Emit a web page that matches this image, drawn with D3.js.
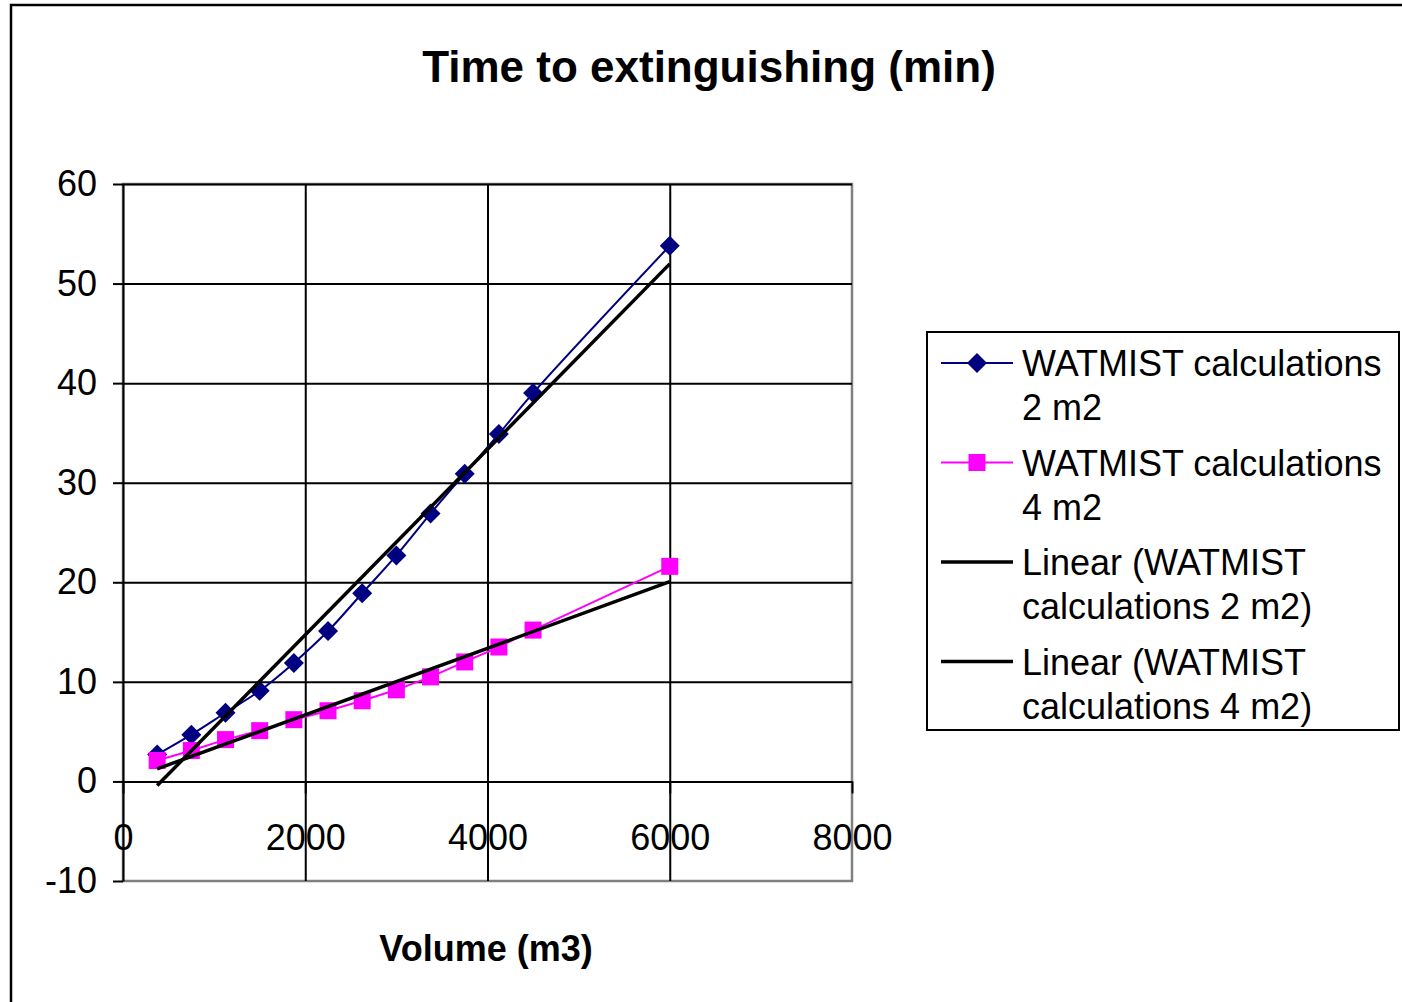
<!DOCTYPE html>
<html>
<head>
<meta charset="utf-8">
<script src="https://cdn.jsdelivr.net/npm/d3@7/dist/d3.min.js"></script>
<style>
  html, body { margin: 0; padding: 0; background: #fff; }
  svg { display: block; font-family: "Liberation Sans", Arial, sans-serif; }
</style>
</head>
<body>
<svg id="chart" width="1402" height="1002"></svg>
<script>
// Volume of the room (m3)
const volumes = [375, 750, 1125, 1500, 1875, 2250, 2625, 3000, 3375, 3750, 4125, 4500, 6000];
// Time to extinguishing (min), WATMIST calculations, 2 m2 fire
const time2m2 = [2.7, 4.7, 6.9, 9.1, 11.9, 15.1, 18.9, 22.7, 26.9, 30.9, 34.9, 39.0, 53.8];
// Time to extinguishing (min), WATMIST calculations, 4 m2 fire
const time4m2 = [2.1, 3.1, 4.2, 5.1, 6.2, 7.1, 8.1, 9.2, 10.5, 12.0, 13.5, 15.2, 21.6];

const xTicks = [0, 2000, 4000, 6000, 8000];
const yTicks = [-10, 0, 10, 20, 30, 40, 50, 60];

const titleText = "Time to extinguishing (min)";
const xTitleText = "Volume (m3)";
const legendLabels = [
  ["WATMIST calculations", "2 m2"],
  ["WATMIST calculations", "4 m2"],
  ["Linear (WATMIST", "calculations 2 m2)"],
  ["Linear (WATMIST", "calculations 4 m2)"]
];

const svg = d3.select("#chart");
const plot = { left: 123, right: 852, top: 184, bottom: 881 };

const x = d3.scaleLinear().domain([0, 8000]).range([plot.left, plot.right]);
const y = d3.scaleLinear().domain([-10, 60]).range([plot.bottom, plot.top]);

// Plain integer labels with an ASCII hyphen for negatives
const plainFormat = d => String(d);

// Outer chart frame
svg.append("rect")
  .attr("x", 11).attr("y", 5).attr("width", 1420).attr("height", 1020)
  .attr("fill", "none").attr("stroke", "#000").attr("stroke-width", 2.5);

// Title
svg.append("text")
  .attr("x", 709).attr("y", 82)
  .attr("text-anchor", "middle")
  .attr("font-size", 44).attr("font-weight", "bold")
  .text(titleText);

// Plot area border
svg.append("rect")
  .attr("x", plot.left).attr("y", plot.top)
  .attr("width", plot.right - plot.left).attr("height", plot.bottom - plot.top)
  .attr("fill", "none").attr("stroke", "#808080").attr("stroke-width", 2.5);

// Horizontal gridlines
svg.append("g")
  .attr("transform", `translate(${plot.left},0)`)
  .call(d3.axisLeft(y).tickValues(yTicks.filter(v => v > -10))
    .tickSize(-(plot.right - plot.left)).tickFormat(""))
  .call(g => g.select(".domain").remove())
  .call(g => g.selectAll("line").attr("stroke", "#000").attr("stroke-width", 2));

// Vertical gridlines
svg.append("g")
  .attr("transform", `translate(0,${plot.bottom})`)
  .call(d3.axisBottom(x).tickValues(xTicks.filter(v => v > 0 && v < 8000))
    .tickSize(-(plot.bottom - plot.top)).tickFormat(""))
  .call(g => g.select(".domain").remove())
  .call(g => g.selectAll("line").attr("stroke", "#000").attr("stroke-width", 2));

// Y axis with outward ticks
const yAxis = svg.append("g")
  .attr("transform", `translate(${plot.left},0)`)
  .call(d3.axisLeft(y).tickValues(yTicks).tickFormat(plainFormat)
    .tickSize(10).tickPadding(16).tickSizeOuter(0));
yAxis.select(".domain").attr("stroke", "#000").attr("stroke-width", 2);
yAxis.selectAll(".tick line").attr("stroke", "#000").attr("stroke-width", 2);
yAxis.selectAll(".tick text")
  .attr("font-size", 36).attr("fill", "#000")
  .attr("font-family", "Liberation Sans, Arial, sans-serif");

// X axis crossing at y = 0, ticks hanging below
const xAxis = svg.append("g")
  .attr("transform", `translate(0,${y(0)})`)
  .call(d3.axisBottom(x).tickValues(xTicks).tickFormat(plainFormat)
    .tickSize(12).tickPadding(0).tickSizeOuter(0));
xAxis.select(".domain").attr("stroke", "#000").attr("stroke-width", 2);
xAxis.selectAll(".tick line").attr("stroke", "#000").attr("stroke-width", 2);
xAxis.selectAll(".tick text")
  .attr("font-size", 36).attr("fill", "#000").attr("dy", null).attr("y", 69)
  .attr("font-family", "Liberation Sans, Arial, sans-serif");

// X axis title
svg.append("text")
  .attr("x", 486).attr("y", 961)
  .attr("text-anchor", "middle")
  .attr("font-size", 36).attr("font-weight", "bold")
  .text(xTitleText);

// Least-squares trend line over the data range
function linearFit(xs, ys) {
  const mx = d3.mean(xs), my = d3.mean(ys);
  let sxy = 0, sxx = 0;
  xs.forEach((v, i) => { sxy += (v - mx) * (ys[i] - my); sxx += (v - mx) * (v - mx); });
  const slope = sxy / sxx;
  const intercept = my - slope * mx;
  const [x0, x1] = d3.extent(xs);
  return [[x0, intercept + slope * x0], [x1, intercept + slope * x1]];
}

const series = [
  { values: time2m2, color: "#000080", symbol: "diamond", curve: d3.curveCatmullRom.alpha(0.5) },
  { values: time4m2, color: "#FF00FF", symbol: "square", curve: d3.curveLinear }
];

const dataG = svg.append("g");

series.forEach(s => {
  const pts = volumes.map((v, i) => [v, s.values[i]]);
  dataG.append("path")
    .datum(pts)
    .attr("fill", "none").attr("stroke", s.color).attr("stroke-width", 2)
    .attr("d", d3.line().x(d => x(d[0])).y(d => y(d[1])).curve(s.curve));
});

function drawMarker(g, type, cx, cy, color) {
  if (type === "diamond") {
    const r = 10;
    g.append("path")
      .attr("d", `M${cx},${cy - r}L${cx + r},${cy}L${cx},${cy + r}L${cx - r},${cy}Z`)
      .attr("fill", color);
  } else {
    const h = 8.5;
    g.append("rect")
      .attr("x", cx - h).attr("y", cy - h).attr("width", 2 * h).attr("height", 2 * h)
      .attr("fill", color);
  }
}

series.forEach(s => {
  volumes.forEach((v, i) => drawMarker(dataG, s.symbol, x(v), y(s.values[i]), s.color));
});

// Trend lines
series.forEach(s => {
  const fit = linearFit(volumes, s.values);
  dataG.append("line")
    .attr("x1", x(fit[0][0])).attr("y1", y(fit[0][1]))
    .attr("x2", x(fit[1][0])).attr("y2", y(fit[1][1]))
    .attr("stroke", "#000").attr("stroke-width", 3.5);
});

// Legend
const legend = svg.append("g");
legend.append("rect")
  .attr("x", 927).attr("y", 332).attr("width", 472).attr("height", 398)
  .attr("fill", "#fff").attr("stroke", "#000").attr("stroke-width", 2);

const legendItems = [
  { color: "#000080", symbol: "diamond", width: 2 },
  { color: "#FF00FF", symbol: "square", width: 2 },
  { color: "#000", symbol: null, width: 3.5 },
  { color: "#000", symbol: null, width: 3.5 }
];

legendItems.forEach((item, i) => {
  const cy = 363 + i * 99.5;
  legend.append("line")
    .attr("x1", 941).attr("x2", 1013).attr("y1", cy).attr("y2", cy)
    .attr("stroke", item.color).attr("stroke-width", item.width);
  if (item.symbol) drawMarker(legend, item.symbol, 977, cy, item.color);
  const t = legend.append("text").attr("font-size", 36).attr("fill", "#000");
  legendLabels[i].forEach((line, j) => {
    t.append("tspan").attr("x", 1022).attr("y", cy + 13 + j * 44).text(line);
  });
});
</script>
</body>
</html>
